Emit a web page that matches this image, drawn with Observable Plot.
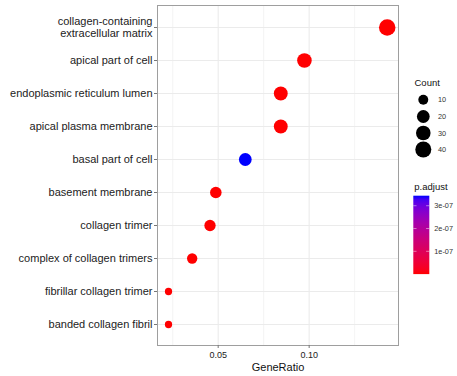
<!DOCTYPE html>
<html>
<head>
<meta charset="utf-8">
<script src="https://cdn.jsdelivr.net/npm/d3@7"></script>
<script src="https://cdn.jsdelivr.net/npm/@observablehq/plot@0.6"></script>
<style>
  html, body { margin: 0; padding: 0; background: #fff; }
  #chart { position: relative; width: 457px; height: 376px; font-family: "Liberation Sans", Arial, sans-serif; }
  #chart svg { position: absolute; left: 0; top: 0; }
</style>
</head>
<body>
<div id="chart"></div>
<script>
// GO cellular-component enrichment, top terms
const terms = [
  "collagen-containing\nextracellular matrix",
  "apical part of cell",
  "endoplasmic reticulum lumen",
  "apical plasma membrane",
  "basal part of cell",
  "basement membrane",
  "collagen trimer",
  "complex of collagen trimers",
  "fibrillar collagen trimer",
  "banded collagen fibril"
];
const geneRatio = [0.1429, 0.0974, 0.0844, 0.0844, 0.0649, 0.0487, 0.0455, 0.0357, 0.0227, 0.0227];
const counts = [44, 30, 26, 26, 20, 15, 14, 11, 7, 7];
const pAdjust = [2.1e-16, 6.5e-10, 1.8e-10, 4.2e-10, 3.44e-7, 1.5e-10, 1.1e-13, 3.0e-12, 8.0e-10, 8.0e-10];

const xTicks = [0.05, 0.10];
const xMinorTicks = [0.025, 0.075, 0.125];
const countBreaks = [10, 20, 30, 40];
const pBreaks = [1e-7, 2e-7, 3e-7];

const rows = terms.map((term, i) => ({term, ratio: geneRatio[i], count: counts[i], p: pAdjust[i]}));
const minCount = d3.min(counts);
const maxCount = d3.max(counts);
const font = "'Liberation Sans', Arial, sans-serif";

// dot area grows with the count above the smallest one
const sizeOf = c => c - minCount;

const plot = Plot.plot({
  width: 457,
  height: 376,
  marginLeft: 157,
  marginRight: 59,
  marginTop: 5,
  marginBottom: 31,
  style: {fontFamily: font, background: "transparent", overflow: "visible"},
  x: {domain: [0.01665, 0.1491]},
  y: {type: "point", domain: terms, padding: 0.6},
  r: {type: "sqrt", domain: [0, maxCount - minCount], range: [3.65, 8.25]},
  color: {type: "linear", domain: d3.extent(pAdjust), range: ["#ff0000", "#0000ff"], interpolate: "lab"},
  marks: [
    Plot.gridX(xMinorTicks, {stroke: "#ededed", strokeOpacity: 1, strokeWidth: 0.6}),
    Plot.gridX(xTicks, {stroke: "#ebebeb", strokeOpacity: 1, strokeWidth: 1.1}),
    Plot.gridY(terms, {stroke: "#ebebeb", strokeOpacity: 1, strokeWidth: 1.1}),
    Plot.dot(rows, {x: "ratio", y: "term", r: d => sizeOf(d.count), fill: "p", stroke: null}),
    Plot.frame({stroke: "#9e9e9e", strokeWidth: 1}),
    Plot.axisY(terms, {tickSize: 3, tickPadding: 2, fontSize: 11, stroke: "#777", fill: "#222", label: null, lineHeight: 1.1}),
    Plot.axisX(xTicks, {tickSize: 3, tickPadding: 3, fontSize: 9, stroke: "#777", fill: "#222", tickFormat: d3.format(".2f"), label: null}),
    Plot.text(["GeneRatio"], {frameAnchor: "bottom", dy: 22, fontSize: 11, fill: "#111", lineAnchor: "middle"})
  ]
});
document.getElementById("chart").appendChild(plot);

// Legends built from the plot's own r and color scales
const rScale = Plot.scale({r: plot.scale("r")});
const cScale = Plot.scale({color: plot.scale("color")});

const svg = d3.select("#chart").append("svg")
  .attr("width", 457).attr("height", 376)
  .style("font-family", font);

// Count legend
const sizeLegend = svg.append("g");
sizeLegend.append("text").attr("x", 414.5).attr("y", 82.5)
  .attr("dominant-baseline", "central").attr("font-size", 9.5).attr("fill", "#111").text("Count");
const keyY = [99.7, 116.5, 133, 149.5];
countBreaks.forEach((c, i) => {
  sizeLegend.append("circle").attr("cx", 423.3).attr("cy", keyY[i])
    .attr("r", rScale.apply(sizeOf(c))).attr("fill", "#000");
  sizeLegend.append("text").attr("x", 438).attr("y", keyY[i])
    .attr("dominant-baseline", "central").attr("font-size", 7.3).attr("fill", "#333").text(c);
});

// p.adjust colour bar
const [pMin, pMax] = d3.extent(pAdjust);
const barX = 413.3, barTop = 195.7, barW = 16, barH = 78.4;
const barY = d3.scaleLinear().domain([pMin, pMax]).range([barTop + barH, barTop]);
const grad = svg.append("defs").append("linearGradient")
  .attr("id", "pgrad").attr("x1", 0).attr("y1", 1).attr("x2", 0).attr("y2", 0);
d3.range(0, 1.0001, 0.05).forEach(t => {
  grad.append("stop").attr("offset", t).attr("stop-color", cScale.apply(pMin + t * (pMax - pMin)));
});
const colorLegend = svg.append("g");
colorLegend.append("text").attr("x", 414.3).attr("y", 186.7)
  .attr("dominant-baseline", "central").attr("font-size", 9.5).attr("fill", "#111").text("p.adjust");
colorLegend.append("rect").attr("x", barX).attr("y", barTop).attr("width", barW).attr("height", barH)
  .attr("fill", "url(#pgrad)");
const fmt = v => {
  const [m, e] = v.toExponential(0).split("e");
  const n = +e;
  return m + "e" + (n < 0 ? "-" : "+") + String(Math.abs(n)).padStart(2, "0");
};
pBreaks.forEach(v => {
  const y = barY(v);
  colorLegend.append("line").attr("x1", barX).attr("x2", barX + 3.2).attr("y1", y).attr("y2", y)
    .attr("stroke", "#fff").attr("stroke-width", 0.6).attr("stroke-opacity", 0.8);
  colorLegend.append("line").attr("x1", barX + barW - 3.2).attr("x2", barX + barW).attr("y1", y).attr("y2", y)
    .attr("stroke", "#fff").attr("stroke-width", 0.6).attr("stroke-opacity", 0.8);
  colorLegend.append("text").attr("x", 434.3).attr("y", y)
    .attr("dominant-baseline", "central").attr("font-size", 7.3).attr("fill", "#333").text(fmt(v));
});
</script>
</body>
</html>
